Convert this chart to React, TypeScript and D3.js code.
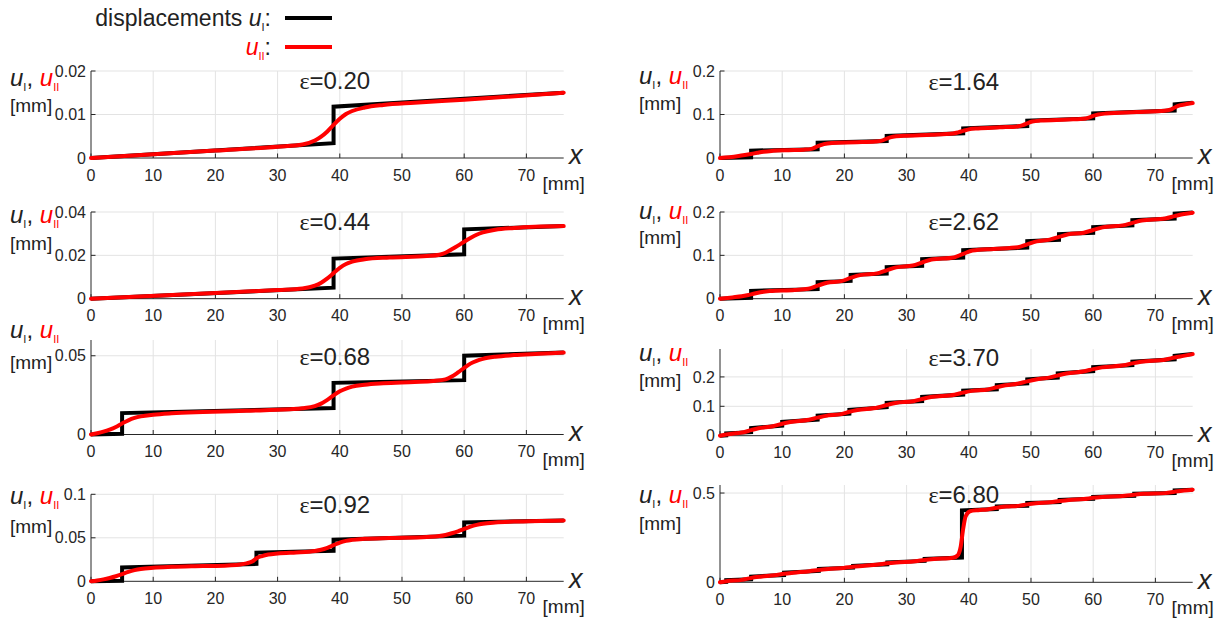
import React from "react";
import * as d3 from "d3";

// ---------------- data ----------------
const X_TICKS = [0, 10, 20, 30, 40, 50, 60, 70];
const X_MAX = 76;
const EPSILON_LABELS = ["0.20", "0.44", "0.68", "0.92", "1.64", "2.62", "3.70", "6.80"];
const Y_MAX = [0.02, 0.04, 0.06, 0.1, 0.2, 0.2, 0.295, 0.545];
const Y_TICKS = [
  [0, 0.01, 0.02],
  [0, 0.02, 0.04],
  [0, 0.05],
  [0, 0.05, 0.1],
  [0, 0.1, 0.2],
  [0, 0.1, 0.2],
  [0, 0.1, 0.2],
  [0, 0.5],
];

// u_I (black, step-wise) [x mm, u mm]
const U1_EPS020 = [[0, 0], [39, 0.0034], [39, 0.0118], [76, 0.015]];
const U1_EPS044 = [[0, 0], [39, 0.0051], [39, 0.0185], [60, 0.0205], [60, 0.032], [76, 0.0335]];
const U1_EPS068 = [[0, 0], [5, 0.0004], [5, 0.0136], [39, 0.0168], [39, 0.0328], [60, 0.0345], [60, 0.05], [76, 0.052]];
const U1_EPS092 = [[0, 0], [5, 0.0005], [5, 0.016], [26.6, 0.02], [26.6, 0.033], [39, 0.0352], [39, 0.0478], [60, 0.0525], [60, 0.0675], [76, 0.07]];
const U1_EPS164 = [[0, 0], [5, 0.0015], [5, 0.017], [15.7, 0.02], [15.7, 0.035], [26.8, 0.039], [26.8, 0.0506], [39.1, 0.0567], [39.1, 0.068], [49.4, 0.0736], [49.4, 0.086], [60, 0.091], [60, 0.1027], [73.1, 0.109], [73.1, 0.1234], [76, 0.127]];
const U1_EPS262 = [[0, 0], [5, 0.002], [5, 0.018], [15.7, 0.022], [15.7, 0.038], [21, 0.041], [21, 0.055], [26.8, 0.058], [26.8, 0.073], [32.5, 0.076], [32.5, 0.091], [39.1, 0.095], [39.1, 0.112], [49.4, 0.118], [49.4, 0.133], [54.5, 0.136], [54.5, 0.149], [60, 0.152], [60, 0.165], [66.3, 0.169], [66.3, 0.181], [73.1, 0.185], [73.1, 0.196], [76, 0.199]];
const U1_EPS370 = [[0, 0], [1, 0.001], [1, 0.008], [5, 0.012], [5, 0.026], [10, 0.034], [10, 0.047], [15.7, 0.055], [15.7, 0.068], [20.8, 0.075], [20.8, 0.088], [26.8, 0.097], [26.8, 0.112], [32.5, 0.118], [32.5, 0.132], [39.1, 0.14], [39.1, 0.153], [44.5, 0.158], [44.5, 0.172], [49.4, 0.178], [49.4, 0.192], [54.3, 0.198], [54.3, 0.212], [60, 0.22], [60, 0.233], [66.3, 0.24], [66.3, 0.252], [73.1, 0.26], [73.1, 0.272], [76, 0.278]];
const U1_EPS680 = [[0, 0], [1, 0.002], [1, 0.012], [5, 0.017], [5, 0.032], [10.3, 0.041], [10.3, 0.054], [15.9, 0.064], [15.9, 0.075], [21.4, 0.082], [21.4, 0.092], [26.9, 0.101], [26.9, 0.112], [32.9, 0.12], [32.9, 0.131], [38.9, 0.139], [38.9, 0.403], [44.5, 0.41], [44.5, 0.425], [49.4, 0.429], [49.4, 0.444], [54.6, 0.449], [54.6, 0.462], [60, 0.468], [60, 0.478], [66.6, 0.485], [66.6, 0.496], [73.1, 0.5], [73.1, 0.515], [76, 0.519]];

// u_II (red, smooth) [x mm, u mm]
const U2_EPS020 = [[0, 0], [20, 0.0017], [30, 0.0026], [34, 0.0031], [36, 0.004], [37, 0.0049], [38, 0.0061], [39, 0.0076], [40, 0.009], [41, 0.0101], [42, 0.0108], [44, 0.0116], [47, 0.0122], [52, 0.0127], [60, 0.0134], [76, 0.015]];
const U2_EPS044 = [[0, 0], [20, 0.0026], [30, 0.004], [34, 0.0047], [36, 0.006], [37, 0.0074], [38, 0.0094], [39, 0.0118], [40, 0.0142], [41, 0.016], [42, 0.0171], [44, 0.0182], [48, 0.019], [54, 0.0197], [56, 0.0203], [57, 0.0212], [58, 0.0228], [59, 0.0245], [60, 0.0263], [61, 0.028], [62, 0.0295], [63, 0.0306], [65, 0.0318], [68, 0.0326], [76, 0.0335]];
const U2_EPS068 = [[0, 0], [1, 0.0008], [2, 0.0018], [3, 0.0031], [4, 0.0048], [5, 0.007], [6, 0.009], [7, 0.0105], [8, 0.0115], [10, 0.0126], [13, 0.0135], [18, 0.0143], [25, 0.0151], [32, 0.016], [34, 0.0166], [36, 0.018], [37, 0.0196], [38, 0.022], [39, 0.0248], [40, 0.0274], [41, 0.0292], [42, 0.0304], [44, 0.0316], [47, 0.0325], [52, 0.0333], [55, 0.0339], [57, 0.035], [58, 0.0368], [59, 0.0394], [60, 0.0423], [61, 0.045], [62, 0.0468], [63, 0.048], [65, 0.0494], [68, 0.0504], [72, 0.0512], [76, 0.052]];
const U2_EPS092 = [[0, 0], [1, 0.001], [2, 0.0022], [3, 0.0038], [4, 0.0058], [5, 0.0083], [6, 0.0108], [7, 0.0128], [8, 0.0142], [10, 0.0156], [13, 0.0166], [18, 0.0175], [22, 0.0183], [24, 0.0193], [25, 0.0206], [26, 0.023], [26.6, 0.0265], [27.5, 0.029], [28.5, 0.0308], [30, 0.032], [33, 0.0332], [35, 0.034], [36, 0.0348], [37, 0.0362], [38, 0.0385], [39, 0.0415], [40, 0.0445], [41, 0.0465], [42, 0.0476], [44, 0.0488], [48, 0.0498], [54, 0.051], [56, 0.052], [57, 0.0533], [58, 0.0552], [59, 0.0575], [60, 0.0602], [61, 0.0628], [62, 0.0648], [63, 0.0662], [65, 0.0676], [68, 0.0686], [76, 0.07]];
const U2_EPS164 = [[0, 0], [1.5, 0.0018], [3, 0.0045], [4, 0.0068], [5, 0.0093], [6, 0.012], [7, 0.0145], [8.5, 0.0165], [11, 0.018], [13.5, 0.0192], [14.7, 0.021], [15.7, 0.027], [16.7, 0.032], [18, 0.0345], [22, 0.0362], [25, 0.038], [26, 0.04], [26.8, 0.0448], [27.8, 0.049], [29.5, 0.051], [34, 0.0535], [37.5, 0.0565], [38.3, 0.059], [39.1, 0.0624], [40, 0.0658], [41.5, 0.068], [45, 0.0705], [48, 0.0728], [48.7, 0.0755], [49.4, 0.0798], [50.2, 0.0838], [51.5, 0.086], [56, 0.0885], [58.8, 0.091], [59.4, 0.0935], [60, 0.0968], [60.8, 0.1], [62, 0.1022], [67, 0.1055], [71.5, 0.1085], [72.4, 0.111], [73.1, 0.1162], [73.9, 0.121], [75, 0.124], [76, 0.1265]];
const U2_EPS262 = [[0, 0], [2, 0.003], [3.5, 0.0055], [5, 0.01], [6.5, 0.0148], [8, 0.0175], [12, 0.02], [14.2, 0.0228], [15.7, 0.03], [17.2, 0.0368], [19.5, 0.0405], [21, 0.048], [22.5, 0.0543], [25.3, 0.0585], [26.8, 0.0655], [28.3, 0.0722], [31, 0.0765], [32.5, 0.0835], [34, 0.0903], [37.6, 0.0952], [39.1, 0.1035], [40.6, 0.111], [44, 0.1148], [47.9, 0.1185], [49.4, 0.1255], [50.9, 0.1322], [53, 0.1362], [54.5, 0.1425], [56, 0.1485], [58.5, 0.1522], [60, 0.1585], [61.5, 0.1645], [64.8, 0.1692], [66.3, 0.175], [67.8, 0.1805], [71.6, 0.1852], [73.1, 0.1905], [74.6, 0.1955], [76, 0.1985]];
const U2_EPS370 = [[0, 0], [1, 0.004], [2.5, 0.0085], [3.8, 0.0115], [5, 0.019], [6.2, 0.0255], [8.5, 0.032], [10, 0.0405], [11.3, 0.0465], [14.3, 0.0545], [15.7, 0.0615], [17, 0.0675], [19.5, 0.0735], [20.8, 0.0815], [22.1, 0.0875], [25.4, 0.096], [26.8, 0.1045], [28.2, 0.1115], [31.1, 0.1175], [32.5, 0.125], [33.9, 0.1315], [37.7, 0.1395], [39.1, 0.1465], [40.5, 0.1525], [43.1, 0.1575], [44.5, 0.165], [45.9, 0.1715], [48, 0.1775], [49.4, 0.185], [50.8, 0.1915], [52.9, 0.1975], [54.3, 0.205], [55.7, 0.2115], [58.6, 0.2195], [60, 0.2265], [61.4, 0.2325], [64.9, 0.2395], [66.3, 0.246], [67.7, 0.2515], [71.7, 0.2595], [73.1, 0.266], [74.5, 0.2715], [76, 0.2775]];
const U2_EPS680 = [[0, 0], [1, 0.006], [3.5, 0.0135], [5, 0.0245], [6.5, 0.0315], [8.8, 0.0395], [10.3, 0.0475], [11.8, 0.0535], [14.4, 0.0625], [15.9, 0.0695], [17.4, 0.0745], [19.9, 0.0805], [21.4, 0.087], [22.9, 0.0915], [25.4, 0.0995], [26.9, 0.1065], [28.4, 0.1115], [31.4, 0.1185], [32.9, 0.1255], [34.4, 0.1305], [37.5, 0.1375], [38.2, 0.15], [38.7, 0.2], [39.1, 0.3], [39.5, 0.37], [40.2, 0.398], [41.5, 0.404], [43, 0.408], [44.5, 0.4175], [46, 0.424], [48, 0.428], [49.4, 0.4365], [50.8, 0.443], [53.1, 0.4485], [54.6, 0.4555], [56.1, 0.4615], [58.5, 0.4665], [60, 0.473], [61.5, 0.4775], [65.1, 0.4845], [66.6, 0.4905], [68.1, 0.4955], [71.6, 0.4995], [73.1, 0.5075], [74.6, 0.5145], [76, 0.519]];

const U1_SERIES = [U1_EPS020, U1_EPS044, U1_EPS068, U1_EPS092, U1_EPS164, U1_EPS262, U1_EPS370, U1_EPS680];
const U2_SERIES = [U2_EPS020, U2_EPS044, U2_EPS068, U2_EPS092, U2_EPS164, U2_EPS262, U2_EPS370, U2_EPS680];

// ---------------- layout ----------------
const W = 1225;
const H = 619;
const AXIS_W = 472.7;
const PANEL_LAYOUT = [
  { x0: 91, top: 71, bottom: 158, uY: 78, mmY: 105, epsY: 81 },
  { x0: 91, top: 212, bottom: 298.7, uY: 215, mmY: 243, epsY: 222 },
  { x0: 91, top: 340, bottom: 434.5, uY: 330, mmY: 362, epsY: 357 },
  { x0: 91, top: 494.3, bottom: 581.3, uY: 496, mmY: 526, epsY: 505 },
  { x0: 720, top: 71, bottom: 158, uY: 76, mmY: 103, epsY: 82 },
  { x0: 720, top: 212, bottom: 298.7, uY: 211, mmY: 237, epsY: 222 },
  { x0: 720, top: 349, bottom: 435.7, uY: 353, mmY: 380, epsY: 358 },
  { x0: 720, top: 485, bottom: 582.3, uY: 495, mmY: 523, epsY: 495 },
];

const FONT = "'Liberation Sans', Arial, Helvetica, sans-serif";
const AX = "#262626";
const GRID = "#e3e3e3";
const RED = "#ff0000";

function Panel({ i }: { i: number }) {
  const L = PANEL_LAYOUT[i];
  const x = d3.scaleLinear().domain([0, X_MAX]).range([L.x0, L.x0 + AXIS_W]);
  const y = d3.scaleLinear().domain([0, Y_MAX[i]]).range([L.bottom, L.top]);
  const stepLine = d3
    .line<number[]>()
    .x((d) => x(d[0]))
    .y((d) => y(d[1]));
  const smoothLine = d3
    .line<number[]>()
    .x((d) => x(d[0]))
    .y((d) => y(d[1]))
    .curve(d3.curveMonotoneX);
  const tickLen = 4.5;
  return (
    <g>
      {X_TICKS.filter((t) => t > 0).map((t) => (
        <line key={"gx" + t} x1={x(t)} x2={x(t)} y1={L.top} y2={L.bottom} stroke={GRID} strokeWidth={1} />
      ))}
      {Y_TICKS[i].filter((t) => t > 0).map((t) => (
        <line key={"gy" + t} x1={L.x0} x2={L.x0 + AXIS_W} y1={y(t)} y2={y(t)} stroke={GRID} strokeWidth={1} />
      ))}
      <line x1={L.x0} x2={L.x0} y1={L.top} y2={L.bottom} stroke={AX} strokeWidth={1} />
      <line x1={L.x0} x2={L.x0 + AXIS_W} y1={L.bottom} y2={L.bottom} stroke={AX} strokeWidth={1} />
      {X_TICKS.map((t) => (
        <g key={"tx" + t}>
          <line x1={x(t)} x2={x(t)} y1={L.bottom} y2={L.bottom - tickLen} stroke={AX} strokeWidth={1} />
          <text x={x(t)} y={L.bottom + 17} dy="0.35em" textAnchor="middle" fontSize={16} fill={AX} fontFamily={FONT}>
            {String(t)}
          </text>
        </g>
      ))}
      {Y_TICKS[i].map((t) => (
        <g key={"ty" + t}>
          <line x1={L.x0} x2={L.x0 + tickLen} y1={y(t)} y2={y(t)} stroke={AX} strokeWidth={1} />
          <text x={L.x0 - 5} y={y(t)} dy="0.35em" textAnchor="end" fontSize={16} fill={AX} fontFamily={FONT}>
            {String(t)}
          </text>
        </g>
      ))}
      <path d={stepLine(U1_SERIES[i]) || ""} fill="none" stroke="#000" strokeWidth={4} strokeLinejoin="miter" />
      <path d={smoothLine(U2_SERIES[i]) || ""} fill="none" stroke={RED} strokeWidth={4} strokeLinejoin="round" strokeLinecap="round" />
      <text x={x(39.2)} y={L.epsY} dy="0.35em" textAnchor="middle" fontSize={24} fill="#222" fontFamily={FONT}>
        <tspan fontFamily="'Liberation Serif', 'Times New Roman', serif">ε</tspan>
        {"=" + EPSILON_LABELS[i]}
      </text>
      <text x={L.x0 + AXIS_W + 12} y={L.bottom - 3} dy="0.35em" textAnchor="middle" fontSize={27} fontStyle="italic" fill="#222" fontFamily={FONT}>
        x
      </text>
      <text x={L.x0 + AXIS_W} y={L.bottom + 25} dy="0.35em" textAnchor="middle" fontSize={19} fill="#222" fontFamily={FONT}>
        [mm]
      </text>
      <text x={L.x0 - 81} y={L.uY} dy="0.35em" fontSize={24} fill="#222" fontFamily={FONT}>
        <tspan fontStyle="italic">u</tspan>
        <tspan fontSize={11} dy={5}>I</tspan>
        <tspan dy={-5}>, </tspan>
        <tspan fontStyle="italic" fill={RED}>u</tspan>
        <tspan fontSize={11} dy={5} fill={RED}>II</tspan>
      </text>
      <text x={L.x0 - 81} y={L.mmY} dy="0.35em" fontSize={19} fill="#222" fontFamily={FONT}>
        [mm]
      </text>
    </g>
  );
}

export default function App() {
  return (
    <svg
      width={W}
      height={H}
      viewBox={`0 0 ${W} ${H}`}
      style={{ position: "absolute", left: 0, top: 0, background: "#fff" }}
    >
      <rect x={0} y={0} width={W} height={H} fill="#fff" />
      <text x={271} y={18} dy="0.35em" textAnchor="end" fontSize={23} fill="#222" fontFamily={FONT}>
        {"displacements "}
        <tspan fontStyle="italic">u</tspan>
        <tspan fontSize={11} dy={5}>I</tspan>
        <tspan dy={-5}>:</tspan>
      </text>
      <line x1={285} x2={332} y1={18} y2={18} stroke="#000" strokeWidth={4} />
      <text x={271} y={47} dy="0.35em" textAnchor="end" fontSize={23} fill="#222" fontFamily={FONT}>
        <tspan fontStyle="italic" fill={RED}>u</tspan>
        <tspan fontSize={11} dy={5} fill={RED}>II</tspan>
        <tspan dy={-5}>:</tspan>
      </text>
      <line x1={285} x2={332} y1={47} y2={47} stroke={RED} strokeWidth={4} />
      {PANEL_LAYOUT.map((_, i) => (
        <Panel key={i} i={i} />
      ))}
    </svg>
  );
}
